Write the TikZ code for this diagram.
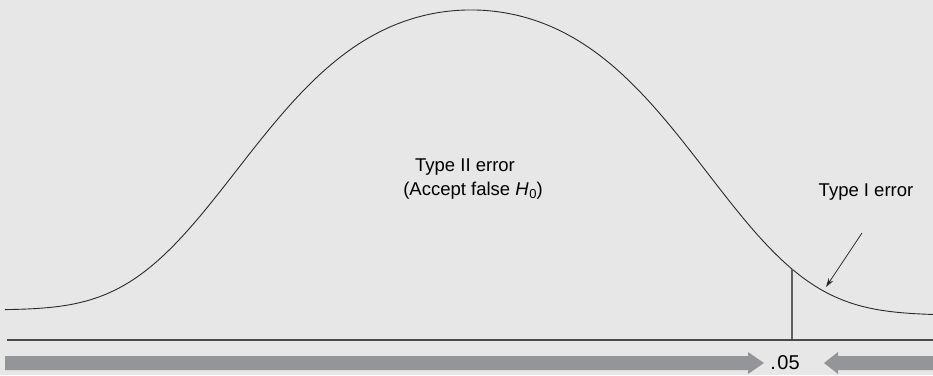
\documentclass[tikz,border=0pt]{standalone}
\usepackage{fontspec}
\setmainfont{Liberation Sans}
\usetikzlibrary{arrows.meta}
\definecolor{bg}{HTML}{E6E7E6}
\definecolor{band}{HTML}{939598}
\definecolor{ink}{HTML}{2A2A2A}
\tikzset{
  curveline/.style={draw=ink, line width=0.9pt},
  axisline/.style={draw=ink!85, line width=1.1pt},
  label/.style={anchor=base, inner sep=0pt, font=\fontsize{18.5}{22}\selectfont, text=black},
  pointer/.style={draw=ink, line width=0.8pt, -{Stealth[length=9pt,width=5.5pt]}},
  bandarrow/.style={fill=band, draw=none},
  declare function={
    bell(\t) = (65 - 5*(\t-5)/928) + 302.5*exp(-((\t-472)/350)^2 - ((\t-472)/315)^4);
  }
}
\begin{document}
\begin{tikzpicture}[x=1pt,y=1pt]
\fill[bg] (0,0) rectangle (933,375);
\useasboundingbox (0,0) rectangle (933,375);
% bell curve
\draw[curveline] plot[domain=5:933, samples=240, smooth] (\x, {bell(\x)});
% axis
\coordinate (axL) at (7,35);
\coordinate (axR) at (933,35);
\draw[axisline] (axL) -- (axR);
% cut-off line
\pgfmathsetmacro{\cuty}{bell(792)}
\coordinate (cutTop) at (792,\cuty);
\coordinate (cutBot) at (792,36);
\draw[draw=ink!75, line width=1.2pt] (cutTop) -- (cutBot);
% labels
\node[label] (t2a) at (465,203) {Type II error};
\node[label] (t2b) at (473,179) {(Accept false \textit{H}\kern0.5pt\raisebox{-2.5pt}{\fontsize{13}{13}\selectfont 0})};
\node[label] (t1) at (866,178) {Type I error};
\node[label, font=\fontsize{20}{22}\selectfont] (p05) at (785,6) {.\kern1.5pt 05};
% type I pointer
\coordinate (pS) at (862,142);
\coordinate (pE) at (826,88);
\draw[pointer] (pS) -- (pE);
% grey band arrows
\fill[bandarrow] (5,19) -- (748,19) -- (748,23) -- (764,12) -- (748,1) -- (748,5) -- (5,5) -- cycle;
\fill[bandarrow] (933,19) -- (838,19) -- (838,23) -- (824,12) -- (838,1) -- (838,5) -- (933,5) -- cycle;
\end{tikzpicture}
\end{document}
